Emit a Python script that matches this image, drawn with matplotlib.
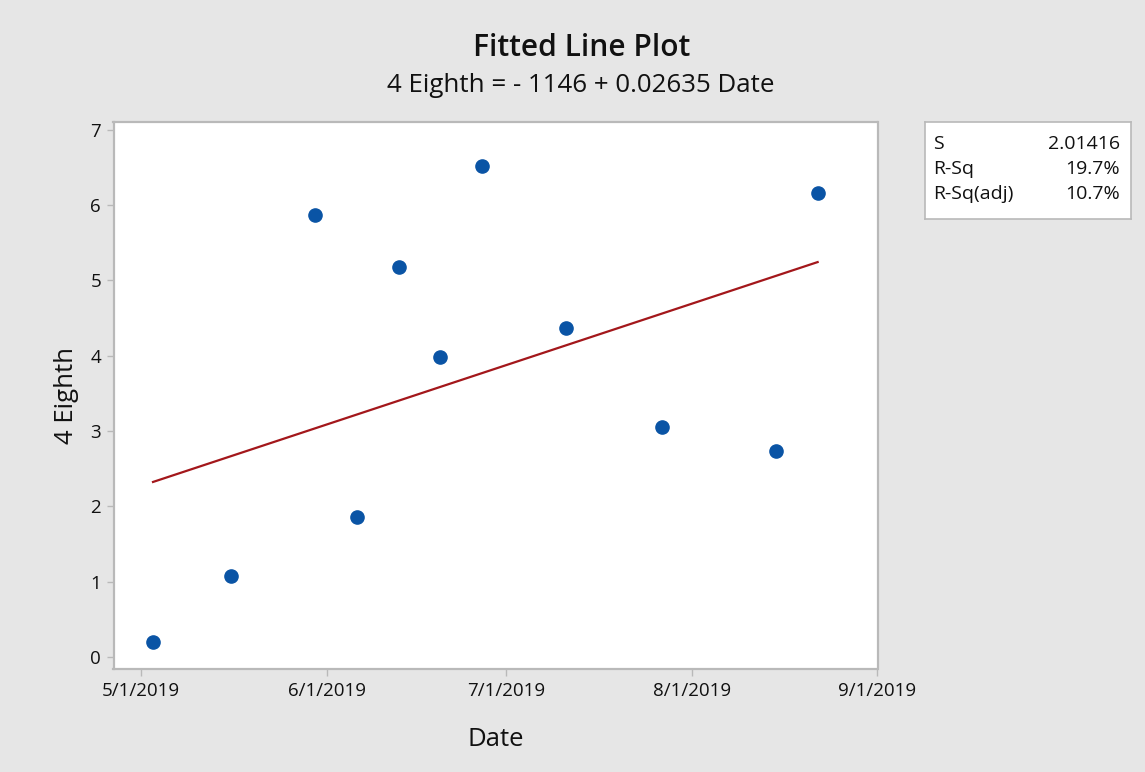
import numpy as np
import pandas as pd
import matplotlib
matplotlib.use("Agg")
import matplotlib.pyplot as plt
import matplotlib.dates as mdates

plt.rcParams['font.family'] = ['Open Sans', 'DejaVu Sans']

# Observations
dates = ["2019-05-03", "2019-05-16", "2019-05-30", "2019-06-06", "2019-06-13",
         "2019-06-20", "2019-06-27", "2019-07-11", "2019-07-27", "2019-08-15",
         "2019-08-22"]
eighth = [0.20, 1.08, 5.87, 1.86, 5.18, 3.98, 6.51, 4.36, 3.05, 2.73, 6.16]

tick_dates = ["2019-05-01", "2019-06-01", "2019-07-01", "2019-08-01", "2019-09-01"]
tick_labels = ["5/1/2019", "6/1/2019", "7/1/2019", "8/1/2019", "9/1/2019"]

stat_names = ["S", "R-Sq", "R-Sq(adj)"]
stat_values = ["2.01416", "19.7%", "10.7%"]

title = "Fitted Line Plot"
equation = "4 Eighth = - 1146 + 0.02635 Date"

x = mdates.date2num(pd.to_datetime(dates))
y = np.array(eighth)
slope, intercept = np.polyfit(x, y, 1)
xf = np.array([x.min(), x.max()])
yf = intercept + slope * xf

bg = "#E6E6E6"
txt = "#111111"
frame = "#B9B9B9"

fig = plt.figure(figsize=(11.45, 7.72), dpi=100, facecolor=bg)
ax = fig.add_axes([113.5 / 1145, 1 - 669 / 772, 764 / 1145, 547 / 772])
ax.set_facecolor("white")

ax.plot(xf, yf, color="#A3171B", lw=1.6, zorder=2)
ax.plot(x, y, "o", color="#0A54A5", ms=9.5, mec="#0A54A5", zorder=3)

tk = mdates.date2num(pd.to_datetime(tick_dates))
ax.set_xticks(tk)
ax.set_xticklabels(tick_labels)
ax.set_xlim(tk[0] - 4.6, tk[-1])
ax.set_yticks(range(0, 8))
ax.set_ylim(-0.16, 7.1)

for s in ax.spines.values():
    s.set_color(frame)
    s.set_linewidth(1.6)
ax.tick_params(axis="both", direction="out", length=5, width=1, color=frame,
               labelsize=13.5, labelcolor=txt, pad=4)

ax.set_xlabel("Date", fontsize=18.5, color=txt, labelpad=20)
ax.set_ylabel("4 Eighth", fontsize=18.5, color=txt, labelpad=8)

fig.text(582 / 1145, 1 - 48 / 772, title, fontsize=21.5, color=txt,
         ha="center", va="center", fontweight="semibold")
fig.text(581 / 1145, 1 - 85 / 772, equation, fontsize=18.6, color=txt,
         ha="center", va="center")

# Summary statistics box
bx = fig.add_axes([925 / 1145, 1 - 219 / 772, 206 / 1145, 97 / 772])
bx.set_facecolor("white")
bx.set_xticks([])
bx.set_yticks([])
for s in bx.spines.values():
    s.set_color(frame)
    s.set_linewidth(1.2)
bx.set_xlim(0, 1)
bx.set_ylim(0, 1)
for i, (n, v) in enumerate(zip(stat_names, stat_values)):
    yy = 1 - (22 + 25 * i) / 97
    bx.text(8 / 206, yy, n, fontsize=14, color=txt, ha="left", va="center")
    bx.text(195 / 206, yy, v, fontsize=14, color=txt, ha="right", va="center")

fig.savefig("out.png", dpi=100, facecolor=bg)
